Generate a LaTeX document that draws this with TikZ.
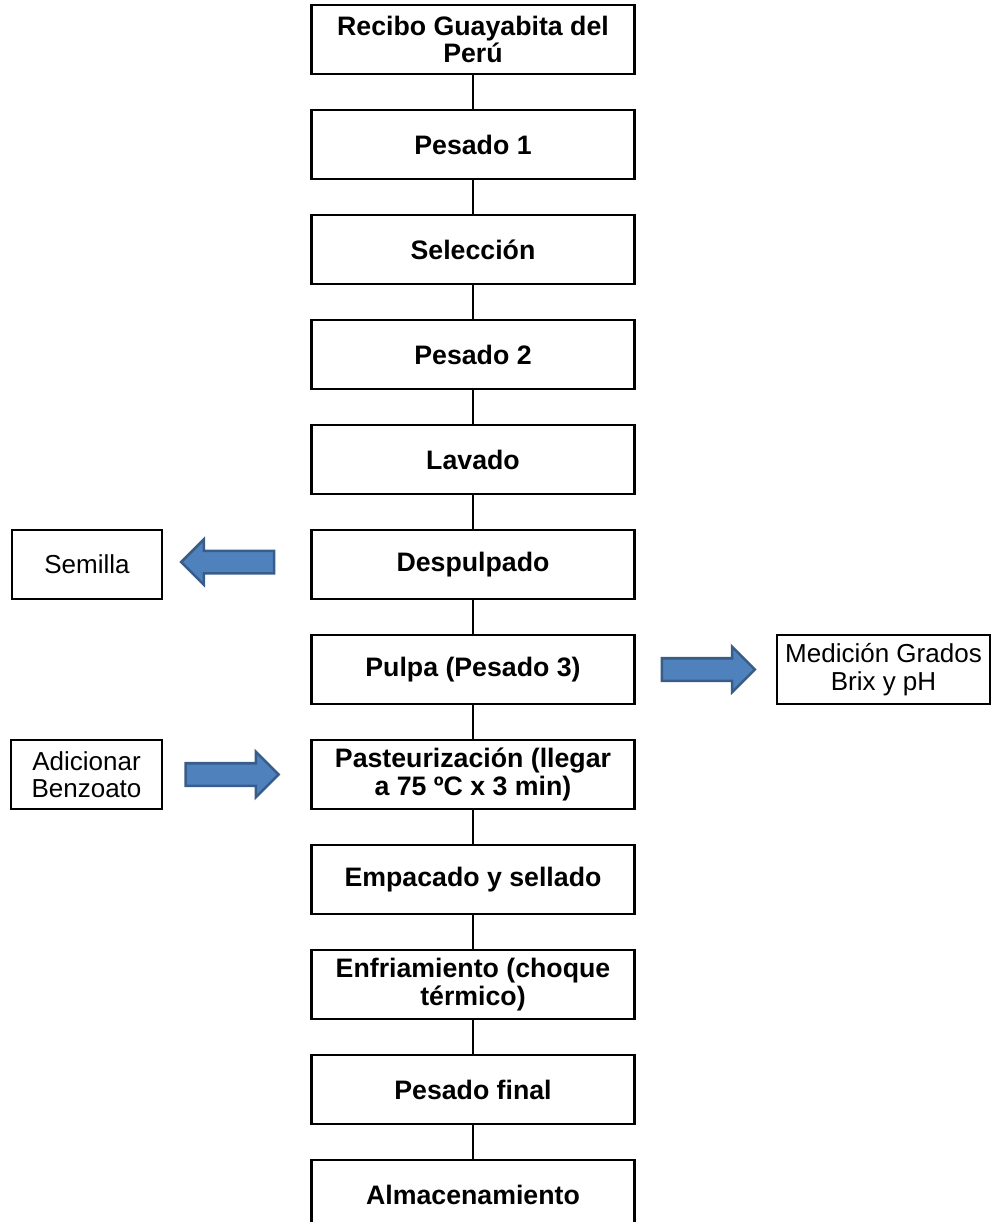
\documentclass[tikz,border=0pt]{standalone}
\usepackage{fontspec}
\setmainfont{Liberation Sans}
\usetikzlibrary{shapes.arrows}
\definecolor{arrowfill}{RGB}{79,129,189}
\definecolor{arrowline}{RGB}{56,93,138}

\begin{document}
\begin{tikzpicture}[node distance={2.625cm}, line width=1.5pt,
main/.style = {draw, rectangle, minimum width=8.075cm, minimum height=1.725cm, align=center, font=\fontsize{19}{19.5}\selectfont\bfseries},
side/.style = {draw, rectangle, minimum height=1.725cm, align=center, font=\fontsize{18.5}{19.5}\selectfont},
block/.style = {single arrow, draw=arrowline, fill=arrowfill, line width=1.8pt, minimum height=2.325cm, inner xsep=0pt, inner ysep=0.25cm, single arrow head extend=0.2875cm}]
\useasboundingbox (0,0) rectangle (24.825,-30.55);

\node[main] (1) at (11.825,-0.9875) {Recibo Guayabita del\\Perú};
\node[main] (2) [below of=1]{Pesado 1};
\node[main] (3) [below of=2]{Selección};
\node[main] (4) [below of=3]{Pesado 2};
\node[main] (5) [below of=4]{Lavado};
\node[main] (6) [below of=5]{Despulpado};
\node[main] (7) [below of=6]{Pulpa (Pesado 3)};
\node[main] (8) [below of=7]{Pasteurización (llegar\\a 75 ºC x 3 min)};
\node[main] (9) [below of=8]{Empacado y sellado};
\node[main] (10) [below of=9]{Enfriamiento (choque\\térmico)};
\node[main] (11) [below of=10]{Pesado final};
\node[main] (12) [below of=11]{Almacenamiento};

\node[side, minimum width=3.75cm] (sem) [left of=6, node distance=9.65cm]{Semilla};
\node[side, minimum width=5.325cm] (med) [right of=7, node distance=10.2625cm]{Medición Grados\\Brix y pH};
\node[side, minimum width=3.775cm] (ben) [left of=8, node distance=9.6625cm]{Adicionar\\Benzoato};

\node[block, shape border rotate=180, anchor=tail] (a1) at ([xshift=-0.875cm, yshift=0.06cm]6.west) {};
\node[block, anchor=tail] (a2) at ([xshift=0.625cm]7.east) {};
\node[block, anchor=tip] (a3) at ([xshift=-0.75cm]8.west) {};

\draw (1)--(2); \draw (2)--(3); \draw (3)--(4); \draw (4)--(5);
\draw (5)--(6); \draw (6)--(7); \draw (7)--(8); \draw (8)--(9);
\draw (9)--(10); \draw (10)--(11); \draw (11)--(12);

\end{tikzpicture}
\end{document}
